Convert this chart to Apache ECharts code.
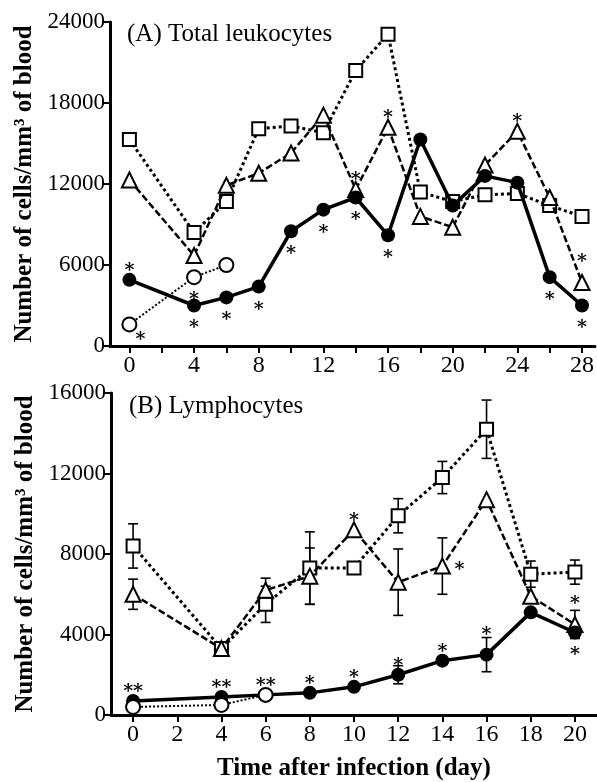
<!DOCTYPE html>
<html>
<head>
<meta charset="utf-8">
<script src="https://cdn.jsdelivr.net/npm/echarts@6/dist/echarts.min.js"></script>
<style>
  html, body { margin: 0; padding: 0; background: #fff; }
  #chart { width: 597px; height: 782px; }
</style>
</head>
<body>
<div id="chart"></div>
<script>
// panel A: total leukocytes
const daysA = [0, 4, 6, 8, 10, 12, 14, 16, 18, 20, 22, 24, 26, 28];
const squareA = [15300, 8400, 10700, 16100, 16300, 15800, 20400, 23100, 11400, 10700, 11200, 11300, 10400, 9600];
const triangleA = [12300, 6700, 11900, 12800, 14300, 17100, 11600, 16200, 9600, 8800, 13400, 15900, 11000, 4700];
const filledA = [4900, 3000, 3600, 4400, 8500, 10100, 11000, 8200, 15300, 10400, 12600, 12100, 5100, 3000];
const openDaysA = [0, 4, 6];
const openA = [1600, 5100, 6000];
const ticksXA = [0, 2, 4, 6, 8, 10, 12, 14, 16, 18, 20, 22, 24, 26, 28];
const labelsXA = [0, 4, 8, 12, 16, 20, 24, 28];

// panel B: lymphocytes
const daysB = [0, 4, 6, 8, 10, 12, 14, 16, 18, 20];
const squareB = [8400, 3300, 5500, 7300, 7300, 9900, 11800, 14200, 7000, 7100];
const squareErrB = [1100, 0, 900, 1800, 0, 850, 800, 1450, 650, 600];
const triangleB = [6000, 3300, 6200, 6900, 9200, 6600, 7400, 10700, 5900, 4500];
const triangleErrB = [750, 0, 600, 1400, 0, 1650, 1400, 0, 0, 700];
const filledB = [700, 900, 1000, 1100, 1400, 2000, 2700, 3000, 5100, 4100];
const filledErrB = [0, 0, 0, 0, 0, 450, 0, 850, 0, 0];
const openDaysB = [0, 4, 6];
const openB = [400, 500, 1000];
const ticksXB = [0, 2, 4, 6, 8, 10, 12, 14, 16, 18, 20];

// significance marks: [series, day, place, text]
const starsA = [
  ['filled', 0, 'top', '*'], ['filled', 4, 'bottom', '*'], ['filled', 6, 'bottom', '*'],
  ['filled', 8, 'bottom', '*'], ['filled', 10, 'bottom', '*'], ['filled', 12, 'bottom', '*'],
  ['filled', 14, 'bottom', '*'], ['filled', 16, 'bottom', '*'], ['filled', 26, 'bottom', '*'],
  ['filled', 28, 'bottom', '*'], ['open', 0, 'botright', '*'], ['open', 4, 'bottom', '*'],
  ['triangle', 14, 'top', '*'], ['triangle', 16, 'top', '*'], ['triangle', 24, 'top', '*'],
  ['triangle', 28, 'topFar', '*']
];
const starsB = [
  ['filled', 0, 'top', '**'], ['filled', 4, 'top', '**'], ['open', 6, 'top', '**'],
  ['filled', 8, 'top', '*'], ['filled', 10, 'top', '*'], ['filled', 12, 'top', '*'],
  ['filled', 14, 'top', '*'], ['filled', 16, 'topFar', '*'], ['filled', 20, 'bottom', '*'],
  ['triangle', 10, 'top', '*'], ['triangle', 14, 'right', '*'], ['triangle', 20, 'topFar', '*']
];

const serif = 'Liberation Serif';
const starOffset = {
  top: [0, -9], topFar: [0, -20], bottom: [0, 23], right: [17, 4], botright: [11, 16]
};

function pairs(xs, ys) { return xs.map((x, i) => [x, ys[i]]); }

function starData(list, sets) {
  return list.map(([s, d, place, text]) => {
    const set = sets[s];
    const v = set.vals[set.days.indexOf(d)];
    return { value: [d, v], label: { formatter: text, offset: starOffset[place] } };
  });
}

function errData(days, vals, errs) {
  const out = [];
  days.forEach((d, i) => { if (errs[i] > 0) out.push([d, vals[i] - errs[i], vals[i] + errs[i]]); });
  return out;
}

function errSeries(idx, data) {
  return {
    type: 'custom', xAxisIndex: idx, yAxisIndex: idx, z: 1, data: data,
    renderItem: function (params, api) {
      const lo = api.coord([api.value(0), api.value(1)]);
      const hi = api.coord([api.value(0), api.value(2)]);
      const w = 5;
      const st = { stroke: '#000', lineWidth: 1.6 };
      return {
        type: 'group', children: [
          { type: 'line', shape: { x1: lo[0], y1: lo[1], x2: hi[0], y2: hi[1] }, style: st },
          { type: 'line', shape: { x1: lo[0] - w, y1: lo[1], x2: lo[0] + w, y2: lo[1] }, style: st },
          { type: 'line', shape: { x1: hi[0] - w, y1: hi[1], x2: hi[0] + w, y2: hi[1] }, style: st }
        ]
      };
    }
  };
}

function lineSeries(idx, data, kind) {
  const base = { type: 'line', xAxisIndex: idx, yAxisIndex: idx, data: data, animation: false };
  if (kind === 'square') return Object.assign(base, {
    symbol: 'rect', symbolSize: 13, z: 3,
    itemStyle: { color: '#fff', borderColor: '#000', borderWidth: 2 },
    lineStyle: { color: '#000', width: 3, type: [3, 3] }
  });
  if (kind === 'triangle') return Object.assign(base, {
    symbol: 'triangle', symbolSize: 15, z: 4,
    itemStyle: { color: '#fff', borderColor: '#000', borderWidth: 2 },
    lineStyle: { color: '#000', width: 2.5, type: [7, 3] }
  });
  if (kind === 'filled') return Object.assign(base, {
    symbol: 'circle', symbolSize: 14, z: 5,
    itemStyle: { color: '#000', borderColor: '#000', borderWidth: 0 },
    lineStyle: { color: '#000', width: 3.5, type: 'solid' }
  });
  return Object.assign(base, {
    symbol: 'circle', symbolSize: 14, z: 6,
    itemStyle: { color: '#fff', borderColor: '#000', borderWidth: 2 },
    lineStyle: { color: '#000', width: 2, type: [2, 2] }
  });
}

function starSeries(idx, data) {
  return {
    type: 'scatter', xAxisIndex: idx, yAxisIndex: idx, z: 10, symbolSize: 1,
    itemStyle: { color: 'transparent' }, data: data,
    label: {
      show: true, position: 'inside', color: '#000', opacity: 1, textBorderWidth: 0,
      fontFamily: 'DejaVu Serif', fontSize: 19, fontWeight: 'bold'
    }
  };
}

const axisLine = { show: true, onZero: false, lineStyle: { color: '#000', width: 3 } };
const tickStyle = { show: true, length: 7, inside: false, lineStyle: { color: '#000', width: 2 } };
const labelStyle = { color: '#000', fontFamily: serif, fontSize: 23, formatter: v => String(v) };
const yName = 'Number of cells/mm³ of blood';
const nameStyle = { color: '#000', fontFamily: serif, fontSize: 25, fontWeight: 'bold' };
const titleStyle = { fontFamily: serif, fontSize: 25, fontWeight: 'normal', color: '#000' };

const setsA = {
  filled: { days: daysA, vals: filledA }, triangle: { days: daysA, vals: triangleA },
  square: { days: daysA, vals: squareA }, open: { days: openDaysA, vals: openA }
};
const setsB = {
  filled: { days: daysB, vals: filledB }, triangle: { days: daysB, vals: triangleB },
  square: { days: daysB, vals: squareB }, open: { days: openDaysB, vals: openB }
};

const chart = echarts.init(document.getElementById('chart'));
chart.setOption({
  animation: false,
  backgroundColor: '#fff',
  title: [
    { text: '(A) Total leukocytes', left: 122, top: 17, textStyle: titleStyle },
    { text: '(B) Lymphocytes', left: 124, top: 389, textStyle: titleStyle }
  ],
  grid: [
    { left: 110, top: 22, width: 486, height: 324 },
    { left: 111, top: 393, width: 487, height: 323 }
  ],
  xAxis: [
    { type: 'value', gridIndex: 0, min: -1.2, max: 28.8, axisLine: axisLine,
      axisTick: Object.assign({ customValues: ticksXA }, tickStyle),
      axisLabel: Object.assign({}, labelStyle, { customValues: labelsXA, margin: 8, fontSize: 24 }),
      splitLine: { show: false } },
    { type: 'value', gridIndex: 1, min: -1, max: 21, axisLine: axisLine,
      axisTick: Object.assign({ customValues: ticksXB }, tickStyle),
      axisLabel: Object.assign({}, labelStyle, { customValues: ticksXB, margin: 8, fontSize: 24 }),
      splitLine: { show: false },
      name: 'Time after infection (day)', nameLocation: 'middle', nameGap: 41, nameTextStyle: nameStyle }
  ],
  yAxis: [
    { type: 'value', gridIndex: 0, min: 0, max: 24000, interval: 6000, axisLine: axisLine,
      axisTick: tickStyle, axisLabel: Object.assign({ margin: 5 }, labelStyle),
      splitLine: { show: false },
      name: yName, nameLocation: 'middle', nameGap: 71, nameRotate: 90, nameTextStyle: nameStyle },
    { type: 'value', gridIndex: 1, min: 0, max: 16000, interval: 4000, axisLine: axisLine,
      axisTick: tickStyle, axisLabel: Object.assign({ margin: 5 }, labelStyle),
      splitLine: { show: false },
      name: yName, nameLocation: 'middle', nameGap: 71, nameRotate: 90, nameTextStyle: nameStyle }
  ],
  series: [
    lineSeries(0, pairs(daysA, squareA), 'square'),
    lineSeries(0, pairs(daysA, triangleA), 'triangle'),
    lineSeries(0, pairs(daysA, filledA), 'filled'),
    lineSeries(0, pairs(openDaysA, openA), 'open'),
    starSeries(0, starData(starsA, setsA)),
    errSeries(1, errData(daysB, squareB, squareErrB)),
    errSeries(1, errData(daysB, triangleB, triangleErrB)),
    errSeries(1, errData(daysB, filledB, filledErrB)),
    lineSeries(1, pairs(daysB, squareB), 'square'),
    lineSeries(1, pairs(daysB, triangleB), 'triangle'),
    lineSeries(1, pairs(daysB, filledB), 'filled'),
    lineSeries(1, pairs(openDaysB, openB), 'open'),
    starSeries(1, starData(starsB, setsB))
  ]
});
</script>
</body>
</html>
